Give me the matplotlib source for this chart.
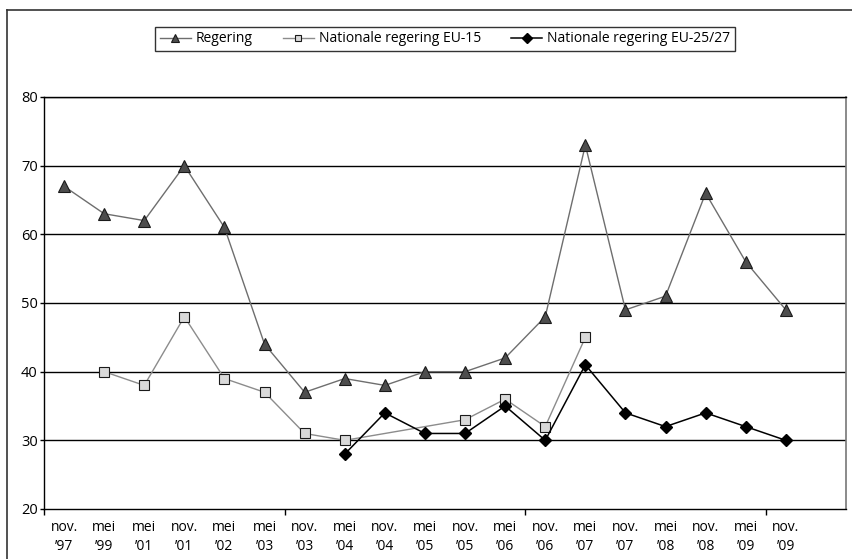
import numpy as np
import matplotlib.pyplot as plt
from matplotlib.lines import Line2D

plt.rcParams['font.family'] = ['Open Sans', 'DejaVu Sans']

periods = ['nov.\n\u201997', 'mei\n\u201999', 'mei\n\u201901', 'nov.\n\u201901', 'mei\n\u201902',
           'mei\n\u201903', 'nov.\n\u201903', 'mei\n\u201904', 'nov.\n\u201904', 'mei\n\u201905',
           'nov.\n\u201905', 'mei\n\u201906', 'nov.\n\u201906', 'mei\n\u201907', 'nov.\n\u201907',
           'mei\n\u201908', 'nov.\n\u201908', 'mei\n\u201909', 'nov.\n\u201909']

nan = np.nan
regering = [67, 63, 62, 70, 61, 44, 37, 39, 38, 40, 40, 42, 48, 73, 49, 51, 66, 56, 49]
eu15 = [nan, 40, 38, 48, 39, 37, 31, 30, nan, nan, 33, 36, 32, 45, nan, nan, nan, nan, nan]
eu2527 = [nan, nan, nan, nan, nan, nan, nan, 28, 34, 31, 31, 35, 30, 41, 34, 32, 34, 32, 30]

x = np.arange(len(periods))

fig = plt.figure(figsize=(8.52, 5.59), dpi=100)
ax = fig.add_axes([44 / 852, 1 - 509 / 559, 802 / 852, 412 / 559])

def plot_series(vals, **kw):
    v = np.array(vals, dtype=float)
    m = ~np.isnan(v)
    return ax.plot(x[m], v[m], **kw)[0]

l1 = plot_series(regering, color='#6e6e6e', lw=1.0, marker='^', ms=8,
                 mfc='#4d4d4d', mec='#1a1a1a', mew=0.8, zorder=3)
l2 = plot_series(eu15, color='#8c8c8c', lw=1.0, marker='s', ms=6.5,
                 mfc='#d9d9d9', mec='#1a1a1a', mew=0.8, zorder=3)
l3 = plot_series(eu2527, color='black', lw=1.1, marker='D', ms=6.5,
                 mfc='black', mec='black', zorder=4)

ax.set_ylim(20, 80)
ax.set_yticks(np.arange(20, 81, 10))
ax.set_xlim(-0.5, len(periods) + 0.5)
for yv in range(30, 81, 10):
    ax.axhline(yv, color='black', lw=1.0, zorder=1)

ax.set_xticks([-0.5, 5.5, 11.5, 17.5])
ax.set_xticklabels([])
ax.set_xticks(x, minor=True)
ax.set_xticklabels(periods, minor=True, fontsize=10, linespacing=1.35)
ax.tick_params(axis='x', which='major', direction='out', length=4, width=1)
ax.tick_params(axis='x', which='minor', length=0, pad=8)
ax.tick_params(axis='y', direction='out', length=3, width=1, labelsize=10.5, pad=1.5)

for s in ['left', 'bottom', 'top']:
    ax.spines[s].set_color('black')
    ax.spines[s].set_linewidth(1.0)
ax.spines['right'].set_color('#777777')
ax.spines['right'].set_linewidth(1.2)

leg = fig.legend([l1, l2, l3],
                 ['Regering', 'Nationale regering EU-15', 'Nationale regering EU-25/27'],
                 loc='center', bbox_to_anchor=(445 / 852, 1 - 39 / 559), ncol=3,
                 frameon=True, fancybox=False, edgecolor='black', fontsize=10,
                 handlelength=2.2, columnspacing=2.2, borderpad=0.35, handletextpad=0.35,
                 markerscale=0.75)
leg.get_frame().set_linewidth(1.0)

# outer frame (left and top edges)
fig.add_artist(Line2D([7 / 852, 7 / 852], [0, 1 - 10 / 559], color='#333333', lw=1.2,
                      transform=fig.transFigure))
fig.add_artist(Line2D([7 / 852, 1], [1 - 10 / 559, 1 - 10 / 559], color='#333333', lw=1.2,
                      transform=fig.transFigure))

fig.savefig('out.png', dpi=100)
